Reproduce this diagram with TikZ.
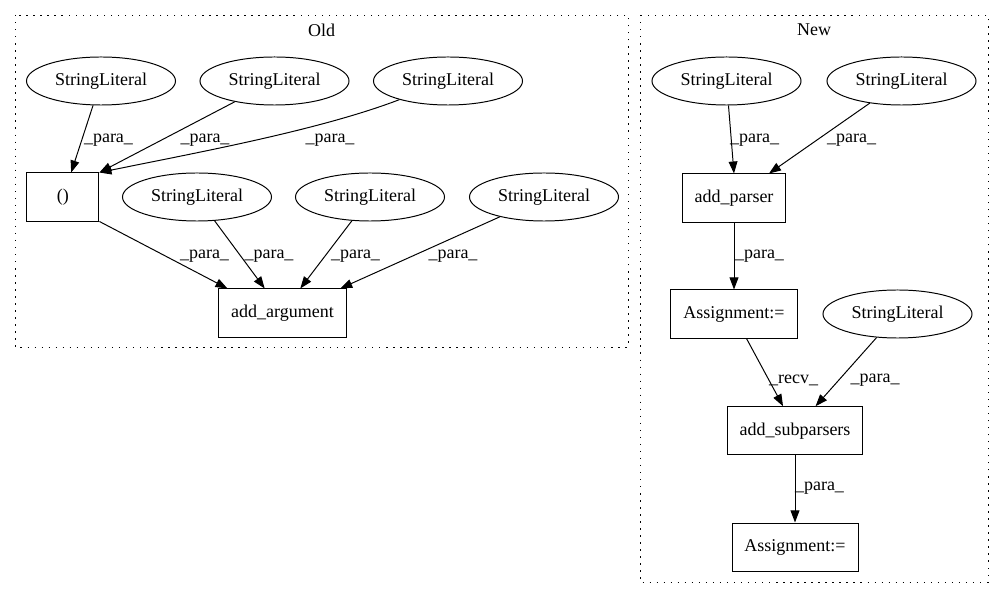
\documentclass[tikz,border=0pt]{standalone}
\usepackage{fontspec}
\setmainfont{Liberation Serif}
\usetikzlibrary{shapes.geometric,arrows.meta,calc}

\tikzset{
  lit/.style={ellipse, draw, line width=0.7pt, minimum width=3.725cm, minimum height=1.2cm, inner sep=0pt},
  op/.style={rectangle, draw, line width=0.7pt, minimum height=1.2cm, inner sep=0pt},
  lbl/.style={inner sep=0pt},
  edge/.style={-{Triangle[length=0.3cm,width=0.22cm]}, line width=0.7pt},
  cluster/.style={draw, line width=0.7pt, dash pattern=on 1pt off 4pt}
}

\begin{document}
\begin{tikzpicture}[x=0.025cm,y=-0.025cm,font=\fontsize{12.8}{15}\selectfont]
\useasboundingbox (0,0) rectangle (1000,596);
% cluster Old
\draw[cluster] (15,15) rectangle (628,347);
\node (oldttl) at (321.5,30) {Old};
% literals, first row
\node[lit] (sl1) at (101,81) {StringLiteral};
\node[lit] (sl2) at (274.5,81) {StringLiteral};
\node[lit] (sl3) at (448,81) {StringLiteral};
% second row
\node[op, minimum width=1.81cm] (paren) at (62.75,197) {()};
\node[lit] (sl4) at (197,197) {StringLiteral};
\node[lit] (sl5) at (370,197) {StringLiteral};
\node[lit] (sl6) at (544,197) {StringLiteral};
% call
\node[op, minimum width=3.175cm] (addarg) at (282.5,313) {add\_argument};
% edges of Old
\draw[edge] (sl1) -- (paren.71) node[lbl] (l1) at (108.5,140) {\_para\_};
\draw[edge] (sl2) -- (paren.north east) node[lbl] (l2) at (205,140) {\_para\_};
\draw[edge] (sl3.201) .. controls (320,130) and (200,152) .. (paren.north east)
  node[lbl] (l3) at (330,140) {\_para\_};
\draw[edge] (paren.south east) -- (addarg.156) node[lbl] (l4) at (204.5,256) {\_para\_};
\draw[edge] (sl4) -- (addarg.126) node[lbl] (l5) at (269,256) {\_para\_};
\draw[edge] (sl5) -- (addarg.54) node[lbl] (l6) at (355.5,256) {\_para\_};
\draw[edge] (sl6) -- (addarg.23) node[lbl] (l7) at (453,256) {\_para\_};

% cluster New
\draw[cluster] (640,15) rectangle (988,582);
\node (newttl) at (814,30) {New};
% literals
\node[lit] (nsl1) at (726.5,81) {StringLiteral};
\node[lit] (nsl2) at (901.5,81) {StringLiteral};
\node[lit] (nsl3) at (897.5,314) {StringLiteral};
% calls and assignments
\node[op, minimum width=2.56cm] (addparser) at (734,198) {add\_parser};
\node[op, minimum width=3.15cm] (assign1) at (734,314) {Assignment:=};
\node[op, minimum width=3.35cm] (addsub) at (795,430.75) {add\_subparsers};
\node[op, minimum width=3.15cm] (assign2) at (795,547) {Assignment:=};
% edges of New
\draw[edge] (nsl1) -- (addparser.north) node[lbl] (nl1) at (754.5,140) {\_para\_};
\draw[edge] (nsl2) -- (addparser.35) node[lbl] (nl2) at (851.5,140) {\_para\_};
\draw[edge] (addparser) -- (assign1) node[lbl] (nl3) at (759.5,256.5) {\_para\_};
\draw[edge] (assign1.-63) -- (addsub.116) node[lbl] (nl4) at (793.5,380) {\_recv\_};
\draw[edge] (nsl3) -- (addsub.50) node[lbl] (nl5) at (875,380) {\_para\_};
\draw[edge] (addsub) -- (assign2) node[lbl] (nl6) at (819.5,488.5) {\_para\_};
\end{tikzpicture}
\end{document}
